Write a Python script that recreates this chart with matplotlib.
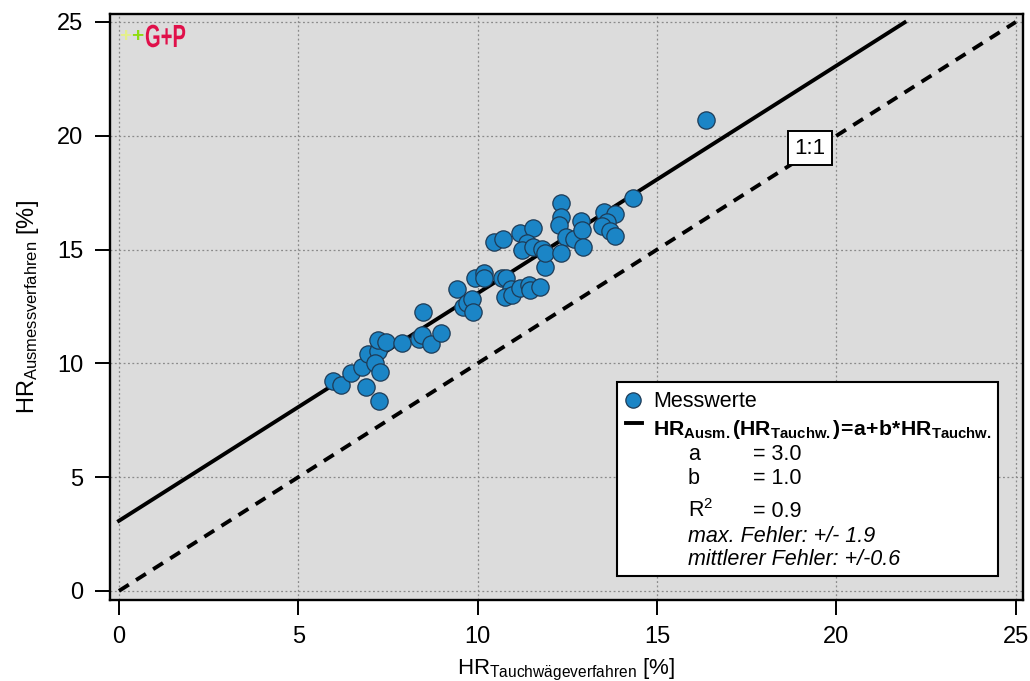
import matplotlib
matplotlib.use("Agg")
import matplotlib.pyplot as plt
import matplotlib.transforms as mtransforms
from matplotlib.patches import Rectangle, PathPatch
from matplotlib.lines import Line2D
from matplotlib.textpath import TextPath
from matplotlib.font_manager import FontProperties

plt.rcParams['font.family'] = ['Liberation Sans', 'DejaVu Sans']
plt.rcParams['mathtext.fontset'] = 'custom'
plt.rcParams['mathtext.rm'] = 'Liberation Sans'
plt.rcParams['mathtext.it'] = 'Liberation Sans:italic'
plt.rcParams['mathtext.bf'] = 'Liberation Sans:bold'

# Messwerte: HR Tauchwaegeverfahren (x) vs HR Ausmessverfahren (y), in %
hr_tauch = [5.96, 6.19, 6.47, 6.77, 6.88, 7.25, 6.94, 7.22, 7.13, 7.27,
            7.22, 7.44, 7.89, 8.36, 8.44, 8.70, 8.97, 8.47, 9.42, 9.59,
            9.70, 9.84, 9.87, 9.92, 10.17, 10.17, 10.67, 10.79, 10.93, 10.76,
            10.95, 11.18, 11.43, 11.45, 11.73, 11.87, 10.45, 10.70, 11.18, 11.54,
            11.37, 11.23, 11.54, 11.79, 11.87, 12.32, 12.32, 12.26, 12.46, 12.68,
            12.88, 12.90, 12.93, 12.32, 13.52, 13.82, 13.60, 13.46, 13.68, 13.82,
            14.33, 16.36]
hr_ausm = [9.23, 9.05, 9.58, 9.84, 8.96, 8.35, 10.41, 10.54, 10.02, 9.62,
           11.03, 10.94, 10.90, 11.07, 11.25, 10.85, 11.34, 12.26, 13.27, 12.48,
           12.65, 12.83, 12.26, 13.75, 13.97, 13.75, 13.75, 13.75, 13.27, 12.92,
           13.01, 13.31, 13.44, 13.22, 13.36, 14.24, 15.33, 15.47, 15.73, 15.95,
           15.29, 14.98, 15.11, 15.03, 14.85, 17.05, 16.43, 16.08, 15.55, 15.47,
           16.26, 15.86, 15.11, 14.85, 16.65, 16.56, 16.21, 16.04, 15.82, 15.60,
           17.27, 20.69]

# Regression HR_Ausm = a + b * HR_Tauch
fit_a = 3.08
fit_b = 1.0
fit_x = [0.0, 21.9]
one_to_one = [0.0, 25.0]
ticks = [0, 5, 10, 15, 20, 25]

fig = plt.figure(figsize=(10.30, 6.81), dpi=100)
ax = fig.add_axes([110 / 1030, 81 / 681, 913 / 1030, 586 / 681])
ax.set_facecolor('#dcdcdc')

ax.plot(one_to_one, one_to_one, color='black', lw=2.8, ls=(0, (3.0, 2.2)), zorder=3)
ax.plot(fit_x, [fit_a + fit_b * x for x in fit_x], color='black', lw=2.8, zorder=3)
ax.scatter(hr_tauch, hr_ausm, s=155, color='#1b85c6', edgecolor='#1d3b57',
           linewidth=0.9, zorder=4)

ax.text(19.26, 19.46, '1:1', fontsize=16, ha='center', va='center', zorder=5,
        bbox=dict(boxstyle='square,pad=0.3', fc='white', ec='black', lw=1.4))

ax.set_xlim(-0.25, 25.2)
ax.set_ylim(-0.4, 25.35)
ax.set_xticks(ticks)
ax.set_yticks(ticks)
ax.grid(True, color='#8a8a8a', ls=(0, (1.5, 2.0)), lw=0.9)
ax.set_axisbelow(True)
for s in ax.spines.values():
    s.set_linewidth(1.7)
ax.tick_params(direction='out', length=11, width=1.4, labelsize=17, pad=8)

ax.set_xlabel(r'HR$_\mathregular{Tauchwägeverfahren}$ [%]', fontsize=16, labelpad=6)
ax.set_ylabel(r'HR$_\mathregular{Ausmessverfahren}$ [%]', fontsize=17, labelpad=12)

# pixel coordinates of the reference (origin top left)
px = mtransforms.Affine2D().scale(1 / 1030, -1 / 681).translate(0, 1) + fig.transFigure

# logo
fig.text(119, 37, '+', transform=px, color='#e4ef8c', fontsize=15,
         fontweight='bold', va='center', ha='left')
fig.text(131, 37, '+', transform=px, color='#8fdc10', fontsize=15,
         fontweight='bold', va='center', ha='left')
logo = TextPath((0, 0), 'G+P', size=32,
                prop=FontProperties(family='Liberation Sans', weight='bold'))
fig.patches.append(PathPatch(logo, transform=mtransforms.Affine2D().scale(0.63, -1)
                             .translate(145, 47) + px, fc='#e0104a', ec='none', zorder=6))

# legend box
fig.patches.append(Rectangle((617, 382), 381, 194, transform=px, fc='white',
                             ec='black', lw=1.5, zorder=10))
fig.lines.append(Line2D([633], [400], transform=px, marker='o', ms=11,
                        mfc='#1b85c6', mec='#1d3b57', mew=0.9, ls='none', zorder=11))
fig.lines.append(Line2D([626, 642], [423, 423], transform=px, color='black',
                        lw=2.8, zorder=11))
fig.text(653, 407, 'Messwerte', transform=px, fontsize=15.5, va='baseline', zorder=11)
fig.text(653, 435,
         r'$\mathbf{HR_{Ausm.}(HR_{Tauchw.})\!=\!a\!+\!b{*}HR_{Tauchw.}}$',
         transform=px, fontsize=15.3, va='baseline', zorder=11)
rows = [('a', '= 3.0', 460), ('b', '= 1.0', 484), (r'R$^2$', '= 0.9', 517)]
for name, val, yb in rows:
    fig.text(688, yb, name, transform=px, fontsize=15.5, va='baseline', zorder=11)
    fig.text(753, yb, val, transform=px, fontsize=15.5, va='baseline', zorder=11)
fig.text(688, 542, 'max. Fehler: +/- 1.9', transform=px, fontsize=15.5,
         style='italic', va='baseline', zorder=11)
fig.text(688, 565, 'mittlerer Fehler: +/-0.6', transform=px, fontsize=15.5,
         style='italic', va='baseline', zorder=11)

fig.savefig('out.png', dpi=100)
